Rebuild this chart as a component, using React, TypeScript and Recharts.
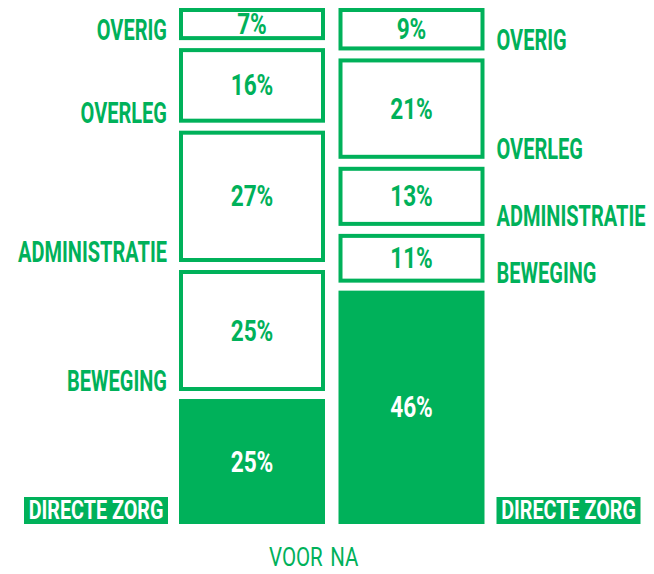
import React from 'react';
import { BarChart, Bar, XAxis, YAxis, LabelList } from 'recharts';

const categories = ['VOOR', 'NA'];
const directeZorg = [25, 46];
const beweging = [25, 11];
const administratie = [27, 13];
const overleg = [16, 21];
const overig = [7, 9];

const GREEN = '#00B15A';
const GAP = 4;
const FONT = 'Roboto, "Liberation Sans", sans-serif';

const data = categories.map((c, i) => ({
  name: c,
  directeZorg: directeZorg[i],
  beweging: beweging[i],
  administratie: administratie[i],
  overleg: overleg[i],
  overig: overig[i],
}));

type Pos = 'bottom' | 'middle' | 'top';

function segBounds(p: any, pos: Pos) {
  const x = Number(p.x), y = Number(p.y), width = Number(p.width), height = Number(p.height);
  const top = pos === 'top' ? y : y + GAP;
  const bottom = pos === 'bottom' ? y + height : y + height - GAP;
  return { x, top, bottom, width };
}

const makeShape = (pos: Pos, filled: boolean) => (props: any) => {
  const b = segBounds(props, pos);
  if (filled) {
    return <rect x={b.x} y={b.top} width={b.width} height={b.bottom - b.top} fill={GREEN} />;
  }
  return (
    <rect
      x={b.x + 2}
      y={b.top + 2}
      width={b.width - 4}
      height={b.bottom - b.top - 4}
      fill="#fff"
      stroke={GREEN}
      strokeWidth={4}
    />
  );
};

const makeLabel = (pos: Pos, filled: boolean, name: string) => (props: any) => {
  const { value, index } = props;
  const b = segBounds(props, pos);
  const cx = b.x + b.width / 2;
  const cy = (b.top + b.bottom) / 2;
  const left = index === 0;
  let cat;
  if (filled) {
    const boxW = 144;
    const boxH = 27;
    const bx = left ? b.x - 11 - boxW : b.x + b.width + 12;
    cat = (
      <g>
        <rect x={bx} y={b.bottom - boxH} width={boxW} height={boxH} fill={GREEN} />
        <text
          transform={`translate(${bx + boxW / 2},${b.bottom - 5}) scale(0.76,1)`}
          textAnchor="middle"
          fill="#fff"
          fontSize={26}
          fontWeight={700}
          fontFamily={FONT}
        >
          {name}
        </text>
      </g>
    );
  } else {
    const tx = left ? b.x - 12 : b.x + b.width + 12;
    cat = (
      <text
        transform={`translate(${tx},${b.bottom}) scale(0.69,1)`}
        textAnchor={left ? 'end' : 'start'}
        fill={GREEN}
        fontSize={29}
        fontWeight={700}
        fontFamily={FONT}
      >
        {name}
      </text>
    );
  }
  return (
    <g>
      <text
        transform={`translate(${cx},${cy + 10}) scale(0.78,1)`}
        textAnchor="middle"
        fill={filled ? '#fff' : GREEN}
        fontSize={29}
        fontWeight={700}
        fontFamily={FONT}
      >
        {value}%
      </text>
      {cat}
    </g>
  );
};

const AxisTick = (props: any) => {
  const { x, y, payload, index } = props;
  const left = index === 0;
  return (
    <text
      transform={`translate(${left ? x + 71 : x - 81},${y + 34}) scale(0.82,1)`}
      textAnchor={left ? 'end' : 'start'}
      fill={GREEN}
      fontSize={25}
      fontWeight={400}
      fontFamily={FONT}
    >
      {payload.value}
    </text>
  );
};

const series: { key: string; name: string; pos: Pos; filled: boolean }[] = [
  { key: 'directeZorg', name: 'DIRECTE ZORG', pos: 'bottom', filled: true },
  { key: 'beweging', name: 'BEWEGING', pos: 'middle', filled: false },
  { key: 'administratie', name: 'ADMINISTRATIE', pos: 'middle', filled: false },
  { key: 'overleg', name: 'OVERLEG', pos: 'middle', filled: false },
  { key: 'overig', name: 'OVERIG', pos: 'top', filled: false },
];

export default function App() {
  return (
    <div style={{ position: 'absolute', left: 0, top: 0, width: 654, height: 574, background: '#fff' }}>
      <BarChart
        width={654}
        height={574}
        data={data}
        margin={{ top: 8, right: 163, bottom: 0, left: 172 }}
        barSize={146}
      >
        <XAxis
          dataKey="name"
          axisLine={false}
          tickLine={false}
          height={50}
          interval={0}
          tick={<AxisTick />}
        />
        <YAxis hide domain={[0, 100]} />
        {series.map((s) => (
          <Bar
            key={s.key}
            dataKey={s.key}
            stackId="a"
            isAnimationActive={false}
            shape={makeShape(s.pos, s.filled)}
          >
            <LabelList dataKey={s.key} content={makeLabel(s.pos, s.filled, s.name)} />
          </Bar>
        ))}
      </BarChart>
    </div>
  );
}
